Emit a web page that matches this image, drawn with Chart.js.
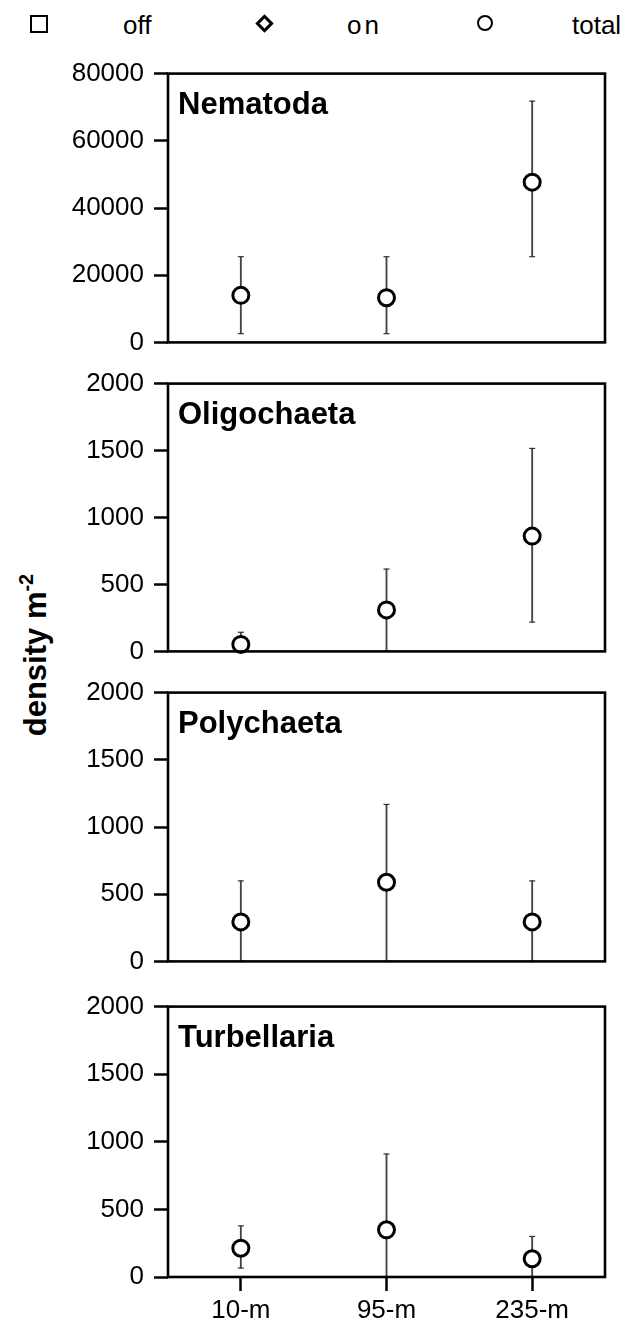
<!DOCTYPE html>
<html><head><meta charset="utf-8">
<script src="https://cdn.jsdelivr.net/npm/chart.js@4/dist/chart.umd.min.js"></script>
<style>
html,body{margin:0;padding:0;background:#fff;}
body{width:628px;height:1326px;position:relative;overflow:hidden;font-family:"Liberation Sans",Arial,sans-serif;color:#000;}
canvas{position:absolute;left:0;}
.lt{position:absolute;font-size:26px;line-height:26px;white-space:nowrap;}
.mk{position:absolute;box-sizing:border-box;border:2.5px solid #000;background:#fff;}
#ytitle{position:absolute;font-weight:bold;font-size:31px;line-height:32px;white-space:nowrap;transform:translate(-50%,-50%) rotate(-90deg);left:37px;top:655px;}
#ytitle sup{font-size:20px;vertical-align:0;position:relative;top:-13px;}
</style>
</head><body>
<div class="mk" style="left:30px;top:15px;width:18px;height:18px;"></div>
<div class="lt" style="left:123px;top:12px;">off</div>
<div class="mk" style="left:258px;top:17px;width:13px;height:13px;border-width:3px;transform:rotate(45deg);"></div>
<div class="lt" style="left:347px;top:12px;letter-spacing:3px;">on</div>
<div class="mk" style="left:477px;top:15px;width:16px;height:16px;border-radius:50%;"></div>
<div class="lt" style="left:572px;top:12px;">total</div>
<div id="ytitle">density m<sup>-2</sup></div>
<canvas id="c0"></canvas><canvas id="c1"></canvas><canvas id="c2"></canvas><canvas id="c3"></canvas>
<script>
// ---- data ----
const categories = ['10-m', '95-m', '235-m'];
const taxa = ['Nematoda', 'Oligochaeta', 'Polychaeta', 'Turbellaria'];

const nematodaMean = [14000, 13300, 47700];
const nematodaLow  = [2600, 2600, 25500];
const nematodaHigh = [25500, 25500, 71800];

const oligochaetaMean = [52, 310, 861];
const oligochaetaLow  = [0, 0, 219];
const oligochaetaHigh = [143, 615, 1516];

const polychaetaMean = [294, 589, 294];
const polychaetaLow  = [0, 0, 0];
const polychaetaHigh = [599, 1168, 599];

const turbellariaMean = [213, 349, 135];
const turbellariaLow  = [66, 0, 0];
const turbellariaHigh = [378, 910, 300];

const yMaxes = [80000, 2000, 2000, 2000];
const ySteps = [20000, 500, 500, 500];

const means = [nematodaMean, oligochaetaMean, polychaetaMean, turbellariaMean];
const lows  = [nematodaLow, oligochaetaLow, polychaetaLow, turbellariaLow];
const highs = [nematodaHigh, oligochaetaHigh, polychaetaHigh, turbellariaHigh];

// ---- layout ----
const FONT = '"Liberation Sans", Arial, sans-serif';
const panelTops = [72, 382, 691, 1005];
const panelBottoms = [344, 653, 963, 1277];
const PAD = 24;
const AXIS_W = 168;
const RIGHT_PAD = 23;
const XAXIS_H = 49;

const framePlugin = {
  id: 'frame',
  afterDraw(chart, args, opts) {
    const a = chart.chartArea, ctx = chart.ctx;
    ctx.save();
    ctx.strokeStyle = '#000';
    ctx.lineWidth = 2.6;
    ctx.strokeRect(a.left, a.top, a.right - a.left, a.bottom - a.top);
    ctx.fillStyle = '#000';
    ctx.font = 'bold 31px ' + FONT;
    ctx.textAlign = 'left';
    ctx.textBaseline = 'alphabetic';
    ctx.fillText(opts.label, a.left + 10, a.top + 40);
    ctx.restore();
  }
};

for (let i = 0; i < 4; i++) {
  const last = i === 3;
  const cv = document.getElementById('c' + i);
  const top = panelTops[i] - PAD;
  const h = (panelBottoms[i] - panelTops[i]) + PAD + (last ? XAXIS_H : PAD);
  cv.style.top = top + 'px';
  cv.width = 628; cv.height = h;
  cv.style.width = '628px'; cv.style.height = h + 'px';

  new Chart(cv, {
    type: 'bar',
    data: {
      labels: categories,
      datasets: [
        {
          type: 'line', label: 'total', data: means[i], showLine: false,
          pointStyle: 'circle', pointRadius: 8, pointHoverRadius: 8,
          pointBorderWidth: 3, pointBorderColor: '#000', pointBackgroundColor: '#fff',
          borderColor: '#000', order: 0, clip: false
        },
        {
          type: 'line', label: 'capHigh', data: highs[i], showLine: false,
          pointStyle: 'line', pointRadius: 3, pointBorderWidth: 1.2,
          pointBorderColor: '#333', borderColor: '#333', order: 1, clip: false
        },
        {
          type: 'line', label: 'capLow', data: lows[i], showLine: false,
          pointStyle: 'line', pointRadius: 3, pointBorderWidth: 1.2,
          pointBorderColor: '#333', borderColor: '#333', order: 1, clip: false
        },
        {
          type: 'bar', label: 'err', data: categories.map((c, k) => [lows[i][k], highs[i][k]]),
          barThickness: 1.2, backgroundColor: '#444', borderWidth: 0, order: 2
        }
      ]
    },
    options: {
      responsive: false, maintainAspectRatio: false, animation: false, devicePixelRatio: 1,
      layout: { padding: { left: 0, right: RIGHT_PAD, top: PAD, bottom: last ? 0 : PAD } },
      plugins: {
        legend: { display: false }, tooltip: { enabled: false },
        frame: { label: taxa[i] }
      },
      events: [],
      scales: {
        x: {
          type: 'category', offset: true, display: last,
          grid: { display: true, offset: false, drawOnChartArea: false, drawTicks: true,
                  tickLength: 14, tickWidth: 2.5, tickColor: '#000' },
          border: { display: false },
          ticks: { color: '#000', font: { family: FONT, size: 26 }, padding: 4, maxRotation: 0 },
          afterFit(s) { if (last) s.height = XAXIS_H; }
        },
        y: {
          min: 0, max: yMaxes[i],
          ticks: { stepSize: ySteps[i], color: '#000', font: { family: FONT, size: 26 }, padding: 10,
                   callback: (v) => String(v) },
          grid: { drawOnChartArea: false, drawTicks: true, tickLength: 14, tickWidth: 2.5, tickColor: '#000' },
          border: { display: false },
          afterFit(s) { s.width = AXIS_W; }
        }
      }
    },
    plugins: [framePlugin]
  });
}
</script>
</body></html>
